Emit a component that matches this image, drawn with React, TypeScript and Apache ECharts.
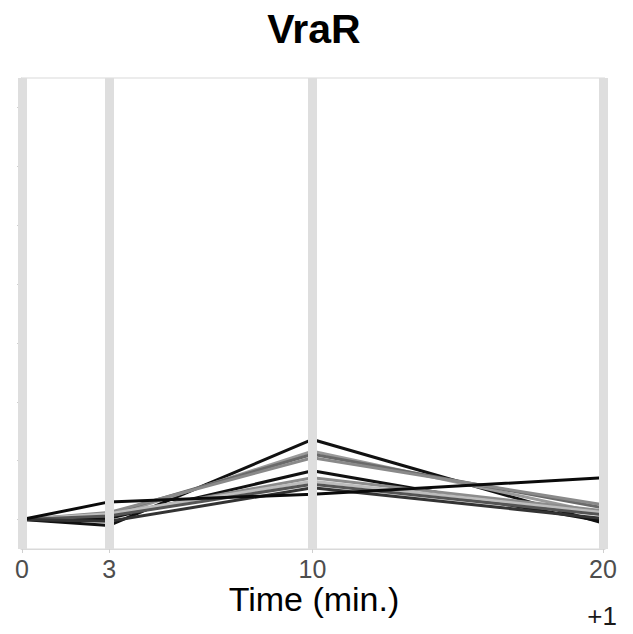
import React, { useEffect, useRef } from "react";
import * as echarts from "echarts";

const timePoints = [0, 3, 10, 20];
const tickLabels = ["0", "3", "10", "20"];
const yTicks = [0, 1, 2, 3, 4, 5, 6, 7];

const lineValues: number[][] = [
  [0, -0.1, 1.36, -0.06],
  [0, 0.05, 1.16, 0.1],
  [0, 0.1, 1.11, 0.2],
  [0, 0.12, 1.05, 0.25],
  [0, 0.02, 0.83, -0.03],
  [0, 0.08, 0.71, 0.15],
  [0, 0.1, 0.65, 0.12],
  [0, 0.06, 0.6, 0.08],
  [0, -0.03, 0.54, 0.02],
  [0, 0.3, 0.43, 0.71],
];
const lineColors = [
  "#111111", "#9a9a9a", "#6a6a6a", "#8a8a8a", "#111111",
  "#8c8c8c", "#bdbdbd", "#555555", "#333333", "#0a0a0a",
];

export default function App() {
  const ref = useRef<HTMLDivElement>(null);
  useEffect(() => {
    document.body.style.margin = "0";
    const chart = echarts.init(ref.current!, null, { renderer: "svg" });
    const font = "'Liberation Sans', Arial, Helvetica, sans-serif";
    const series: any[] = [
      {
        type: "line",
        data: [],
        z: 1,
        silent: true,
        markLine: {
          silent: true,
          symbol: "none",
          label: { show: false },
          lineStyle: { color: "#dedede", width: 9, type: "solid" },
          data: timePoints.map((t) => ({ xAxis: t })),
        },
      },
    ];
    lineValues.forEach((vals, i) => {
      series.push({
        type: "line",
        z: 2,
        data: vals.map((v, j) => [timePoints[j], v]),
        symbol: "none",
        lineStyle: { color: lineColors[i], width: 3 },
      });
    });
    chart.setOption({
      animation: false,
      grid: {
        left: 21,
        right: 28,
        top: 78,
        bottom: 85,
        show: true,
        borderColor: "#d9d9d9",
        borderWidth: 1,
        backgroundColor: "#fff",
      },
      xAxis: {
        type: "value",
        min: -0.034,
        max: 20.069,
        splitLine: { show: false },
        axisLine: { show: true, onZero: false, lineStyle: { color: "#d9d9d9", width: 1 } },
        axisTick: {
          show: true,
          customValues: timePoints,
          length: 4,
          lineStyle: { color: "#d0d0d0" },
        },
        axisLabel: {
          customValues: timePoints,
          formatter: (v: number) => tickLabels[timePoints.indexOf(v)] ?? "",
          fontSize: 25,
          color: "#4d4d4d",
          fontFamily: font,
          margin: 7,
        },
      },
      yAxis: {
        type: "value",
        min: -0.5,
        max: 7.5,
        splitLine: { show: false },
        axisLine: { show: true, onZero: false, lineStyle: { color: "#d9d9d9" } },
        axisTick: {
          show: true,
          customValues: yTicks,
          length: 4,
          lineStyle: { color: "#d0d0d0" },
        },
        axisLabel: { show: false, customValues: yTicks },
      },
      series,
      graphic: [
        {
          type: "text",
          x: 314,
          y: 29,
          style: {
            text: "VraR",
            fontSize: 41,
            fontWeight: "bold",
            fontFamily: font,
            fill: "#000",
            textAlign: "center",
            textVerticalAlign: "middle",
          },
        },
        {
          type: "text",
          x: 314,
          y: 599,
          style: {
            text: "Time (min.)",
            fontSize: 34,
            fontFamily: font,
            fill: "#000",
            textAlign: "center",
            textVerticalAlign: "middle",
          },
        },
        {
          type: "text",
          x: 617,
          y: 616,
          style: {
            text: "+1",
            fontSize: 26,
            fontFamily: font,
            fill: "#1a1a1a",
            textAlign: "right",
            textVerticalAlign: "middle",
          },
        },
      ],
    });
    return () => chart.dispose();
  }, []);
  return <div ref={ref} style={{ width: 633, height: 634 }} />;
}
